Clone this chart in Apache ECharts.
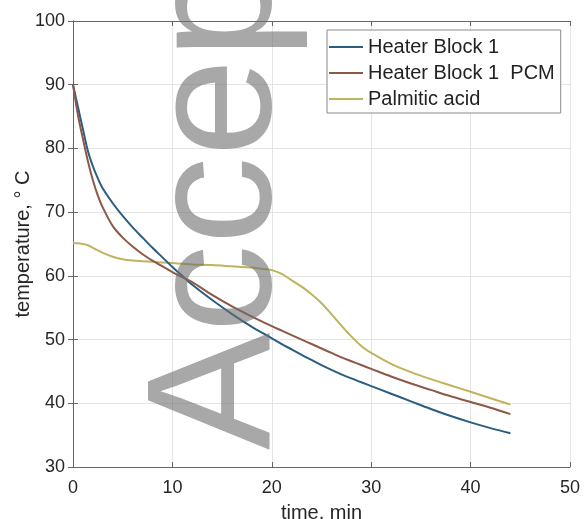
<!DOCTYPE html>
<html>
<head>
<meta charset="utf-8">
<script src="https://cdn.jsdelivr.net/npm/echarts@6/dist/echarts.min.js"></script>
<style>
html,body{margin:0;padding:0;background:#fff;}
#chart{width:586px;height:519px;}
</style>
</head>
<body>
<div id="chart"></div>
<script>
// time, min
const timeMin = [0,0.5,1,1.5,2,2.5,3,4,5,6,7,8,9,10,11,12,14,16,18,20,21,22,23,24,25,26,27,28,29,30,32,34,36,38,40,42,44];
// temperature, deg C
const heaterBlock1 = [90,86.5,83.0,79.6,77.2,75.3,73.7,71.4,69.4,67.6,66.0,64.4,62.9,61.4,60.0,58.6,56.2,54.0,52.0,50.2,49.3,48.45,47.6,46.8,46.0,45.25,44.55,43.9,43.3,42.7,41.5,40.3,39.1,38.0,37.0,36.1,35.3];
const heaterBlock1PCM = [90,85.2,81.5,78.0,75.0,72.6,70.7,67.8,66.0,64.6,63.4,62.4,61.5,60.6,59.8,59.0,57.0,55.2,53.6,52.1,51.4,50.7,50.0,49.3,48.6,47.9,47.2,46.6,46.0,45.4,44.2,43.1,42.1,41.1,40.2,39.3,38.3];
const palmiticAcid = [65.1,65.1,65.0,64.8,64.4,64.0,63.6,63.0,62.6,62.4,62.3,62.2,62.1,62.0,61.9,61.8,61.7,61.5,61.3,60.9,60.3,59.3,58.3,57.1,55.7,54.0,52.2,50.5,49.0,47.9,46.2,44.9,43.8,42.8,41.8,40.8,39.8];
const seriesNames = ['Heater Block 1','Heater Block 1  PCM','Palmitic acid'];
const xTicks = {min:0,max:50,interval:10};
const yTicks = {min:30,max:100,interval:10};

const pair = (xs, ys) => xs.map((x,i)=>[x, ys[i]]);
const colors = ['#2b5d80','#8c5848','#c0b35e'];
const font = '"Liberation Sans", Arial, sans-serif';

const chart = echarts.init(document.getElementById('chart'), null, {renderer:'canvas'});
const tickCommon = {show:true, inside:true, length:5, lineStyle:{color:'#666'}};
chart.setOption({
  animation:false,
  backgroundColor:'#fff',
  grid:{left:73, top:21, right:16, bottom:52, containLabel:false, outerBoundsMode:'none'},
  xAxis:[{
    type:'value', min:xTicks.min, max:xTicks.max, interval:xTicks.interval,
    name:'time, min', nameLocation:'middle', nameGap:36, nameMoveOverlap:false,
    nameTextStyle:{fontFamily:font, fontSize:20, color:'#262626'},
    axisLine:{show:true, lineStyle:{color:'#666', width:1}},
    axisTick:tickCommon,
    axisLabel:{fontFamily:font, fontSize:18, color:'#262626', margin:12},
    splitLine:{show:true, lineStyle:{color:'#e4e4e4', width:1}}
  },{
    type:'value', position:'top', min:xTicks.min, max:xTicks.max, interval:xTicks.interval,
    axisLine:{show:true, lineStyle:{color:'#666', width:1}},
    axisTick:tickCommon, axisLabel:{show:false}, splitLine:{show:false}
  }],
  yAxis:[{
    type:'value', min:yTicks.min, max:yTicks.max, interval:yTicks.interval,
    name:'temperature, ° C', nameLocation:'middle', nameGap:40, nameMoveOverlap:false,
    nameTextStyle:{fontFamily:font, fontSize:20, color:'#262626'},
    axisLine:{show:true, lineStyle:{color:'#666', width:1}},
    axisTick:tickCommon,
    axisLabel:{fontFamily:font, fontSize:18, color:'#262626', margin:8},
    splitLine:{show:true, lineStyle:{color:'#e4e4e4', width:1}}
  },{
    type:'value', position:'right', min:yTicks.min, max:yTicks.max, interval:yTicks.interval,
    axisLine:{show:true, lineStyle:{color:'#666', width:1}},
    axisTick:tickCommon, axisLabel:{show:false}, splitLine:{show:false}
  }],
  legend:{
    orient:'vertical', left:327, top:30,
    padding:[7,6,4,2], itemGap:6, itemWidth:34, itemHeight:2, icon:'rect',
    backgroundColor:'#fff', borderColor:'#8a8a8a', borderWidth:1, borderRadius:0,
    textStyle:{fontFamily:font, fontSize:20, color:'#222', lineHeight:20},
    data:seriesNames
  },
  series:[
    {name:seriesNames[0], type:'line', data:pair(timeMin,heaterBlock1), showSymbol:false, symbol:'none', smooth:0.3, lineStyle:{width:2, color:colors[0]}, itemStyle:{color:colors[0]}, z:3},
    {name:seriesNames[1], type:'line', data:pair(timeMin,heaterBlock1PCM), showSymbol:false, symbol:'none', smooth:0.3, lineStyle:{width:2, color:colors[1]}, itemStyle:{color:colors[1]}, z:4},
    {name:seriesNames[2], type:'line', data:pair(timeMin,palmiticAcid), showSymbol:false, symbol:'none', smooth:0.3, lineStyle:{width:2, color:colors[2]}, itemStyle:{color:colors[2]}, z:2}
  ],
  graphic:[{
    type:'text', x:309, y:450, rotation:Math.PI/2, z:100,
    style:{text:'Accepted', font:'176px "Liberation Sans", Arial, sans-serif', fill:'rgba(110,110,110,0.6)', textAlign:'left', textVerticalAlign:'bottom'}
  }]
});
</script>
</body>
</html>
